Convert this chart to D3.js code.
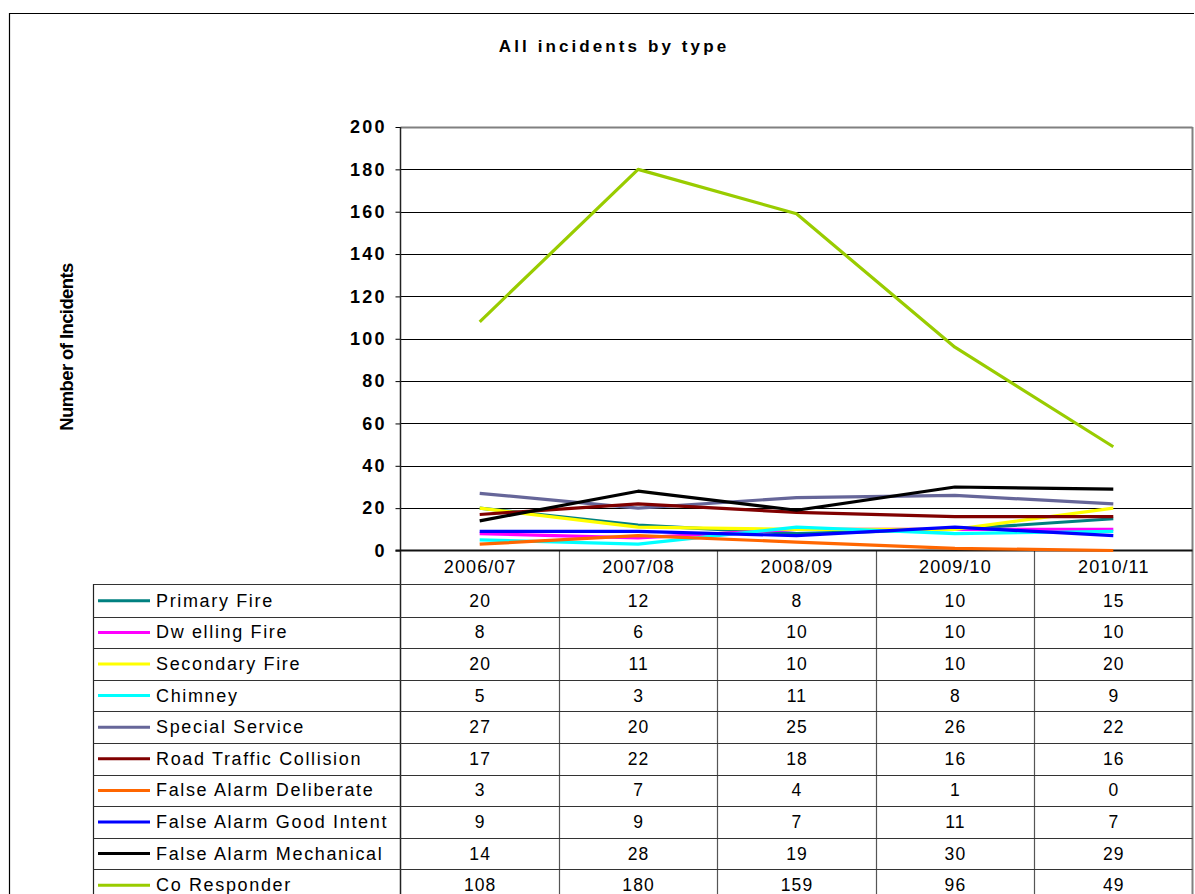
<!DOCTYPE html>
<html><head><meta charset="utf-8">
<script src="https://cdn.jsdelivr.net/npm/d3@7/dist/d3.min.js"></script>
<style>
html,body{margin:0;padding:0;background:#fff;}
svg{display:block;font-family:"Liberation Sans",Arial,sans-serif;}
</style></head>
<body>
<svg id="chart" width="1195" height="894"></svg>
<script>
const years = ["2006/07","2007/08","2008/09","2009/10","2010/11"];
const seriesNames = ["Primary Fire","Dw elling Fire","Secondary Fire","Chimney","Special Service","Road Traffic Collision","False Alarm Deliberate","False Alarm Good Intent","False Alarm Mechanical","Co Responder"];
const primaryFire = [20,12,8,10,15];
const dwellingFire = [8,6,10,10,10];
const secondaryFire = [20,11,10,10,20];
const chimney = [5,3,11,8,9];
const specialService = [27,20,25,26,22];
const roadTrafficCollision = [17,22,18,16,16];
const falseAlarmDeliberate = [3,7,4,1,0];
const falseAlarmGoodIntent = [9,9,7,11,7];
const falseAlarmMechanical = [14,28,19,30,29];
const coResponder = [108,180,159,96,49];
const yTicks = [0,20,40,60,80,100,120,140,160,180,200];
const colors = ["#008080","#FF00FF","#FFFF00","#00FFFF","#666699","#800000","#FF6600","#0000FF","#000000","#99CC00"];

const values = [primaryFire,dwellingFire,secondaryFire,chimney,specialService,roadTrafficCollision,falseAlarmDeliberate,falseAlarmGoodIntent,falseAlarmMechanical,coResponder];
const series = seriesNames.map((n,i)=>({name:n,color:colors[i],values:values[i]}));

const svg = d3.select("#chart");
const L = 400.5, R = 1192.5, T = 127, B = 550.5;
const tableLeft = 93.5;
const x = d3.scaleBand().domain(years).range([L,R]);
const y = d3.scaleLinear().domain([0,200]).range([B,T]);
const rowTop = 585, rowH = 31.6;
const rowY = d3.scaleBand().domain(seriesNames).range([rowTop,rowTop+rowH*seriesNames.length]).paddingInner(0);

// outer border (left & top)
svg.append("path").attr("d",`M9.5,894 L9.5,13.5 L1194,13.5`).attr("fill","none").attr("stroke","#000").attr("stroke-width",1.2);

// title
svg.append("text").attr("x",614).attr("y",52).attr("text-anchor","middle")
  .attr("font-size",17).attr("font-weight","bold").attr("letter-spacing",3.1)
  .text("All incidents by type");

// y axis label
svg.append("text").attr("transform","translate(73,347) rotate(-90)").attr("text-anchor","middle")
  .attr("font-size",18.5).attr("font-weight","bold").attr("letter-spacing",-0.6)
  .text("Number of Incidents");

// gridlines
svg.append("g").selectAll("line").data(yTicks.filter(d=>d>0)).join("line")
  .attr("x1",L).attr("x2",R).attr("y1",d=>Math.round(y(d))+0.5).attr("y2",d=>Math.round(y(d))+0.5)
  .attr("stroke",d=>d===200?"#808080":"#000").attr("stroke-width",d=>d===200?2:1);
// right plot border
svg.append("line").attr("x1",R).attr("x2",R).attr("y1",T).attr("y2",894).attr("stroke","#808080").attr("stroke-width",2);

// y axis
const yAxis = d3.axisLeft(y).tickValues(yTicks).tickSize(5).tickPadding(11);
const gy = svg.append("g").attr("transform",`translate(${L},0)`).call(yAxis);
gy.select(".domain").remove();
gy.selectAll(".tick line").attr("stroke","#000");
gy.selectAll(".tick text").attr("font-size",18).attr("font-weight","bold").attr("fill","#000")
  .attr("font-family","Liberation Sans, Arial, sans-serif").attr("letter-spacing",2.2).attr("dx",2.2);
svg.append("line").attr("x1",L).attr("x2",L).attr("y1",T).attr("y2",894).attr("stroke","#222").attr("stroke-width",1.5);

// table grid
const tg = svg.append("g");
tg.selectAll("line.v").data(years.slice(1)).join("line").attr("class","v")
  .attr("x1",d=>Math.round(x(d))+0.5).attr("x2",d=>Math.round(x(d))+0.5).attr("y1",B).attr("y2",894)
  .attr("stroke","#555").attr("stroke-width",1.2);
tg.append("line").attr("x1",tableLeft).attr("x2",tableLeft).attr("y1",584).attr("y2",894).attr("stroke","#222").attr("stroke-width",1.2);
tg.append("line").attr("x1",tableLeft).attr("x2",R).attr("y1",584.5).attr("y2",584.5).attr("stroke","#333").attr("stroke-width",1.2);
tg.selectAll("line.h").data(seriesNames.slice(1)).join("line").attr("class","h")
  .attr("x1",tableLeft).attr("x2",R).attr("y1",d=>Math.round(rowY(d))+0.5).attr("y2",d=>Math.round(rowY(d))+0.5)
  .attr("stroke","#333").attr("stroke-width",1.2);

// header labels
svg.append("g").selectAll("text").data(years).join("text")
  .attr("x",d=>x(d)+x.bandwidth()/2+0.5).attr("y",573).attr("text-anchor","middle")
  .attr("font-size",18).attr("letter-spacing",1.1).text(d=>d);

// table rows
const rows = svg.append("g").selectAll("g").data(series).join("g")
  .attr("transform",d=>`translate(0,${rowY(d.name)+rowY.bandwidth()/2})`);
rows.append("line").attr("x1",98).attr("x2",150).attr("y1",0).attr("y2",0)
  .attr("stroke",d=>d.color).attr("stroke-width",3);
rows.append("text").attr("x",156).attr("y",6).attr("font-size",18).attr("letter-spacing",1.65).text(d=>d.name);
rows.selectAll("text.v").data(d=>d.values.map((v,i)=>({v,yr:years[i]}))).join("text").attr("class","v")
  .attr("x",d=>x(d.yr)+x.bandwidth()/2+0.5).attr("y",6).attr("text-anchor","middle")
  .attr("font-size",17.5).attr("letter-spacing",1.1).text(d=>d.v);

// x axis line
svg.append("line").attr("x1",L-5).attr("x2",R).attr("y1",B).attr("y2",B).attr("stroke","#111").attr("stroke-width",2);

// lines
const line = d3.line().x((d,i)=>x(years[i])+x.bandwidth()/2).y(d=>y(d));
svg.append("g").selectAll("path").data(series).join("path")
  .attr("d",d=>line(d.values)).attr("fill","none").attr("stroke",d=>d.color)
  .attr("stroke-width",3.2).attr("stroke-linejoin","round");
</script>
</body></html>
